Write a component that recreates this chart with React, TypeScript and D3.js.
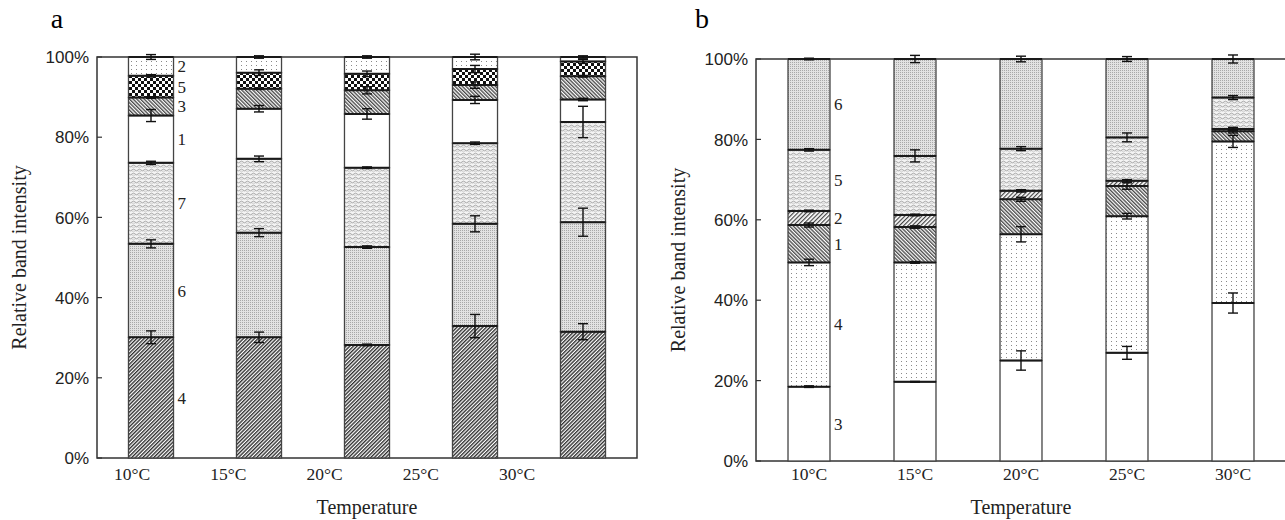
import React from 'react';
import * as d3 from 'd3';

// temperatures on the x axis
const temps = ['10°C', '15°C', '20°C', '25°C', '30°C'];
const yTicks = [0, 20, 40, 60, 80, 100];

// panel a: bands stacked bottom -> top, share (%) of each band per temperature
const bandsA = ['4', '6', '7', '1', '3', '5', '2'];
const a4 = [30.1, 30.1, 28.2, 32.9, 31.5];
const a6 = [23.3, 26.1, 24.4, 25.5, 27.3];
const a7 = [20.2, 18.4, 19.8, 20.1, 25.0];
const a1 = [11.8, 12.5, 13.4, 10.8, 5.6];
const a3 = [4.5, 5.0, 5.9, 3.7, 5.8];
const a5 = [5.4, 4.0, 4.1, 4.0, 3.7];
const a2 = [4.7, 3.9, 4.2, 3.0, 1.1];
// error (+/-) at top of each band
const a4Err = [1.6, 1.3, 0.2, 2.9, 2.0];
const a6Err = [1.0, 1.0, 0.3, 2.0, 3.5];
const a7Err = [0.4, 0.7, 0.2, 0.3, 3.9];
const a1Err = [1.5, 0.8, 1.3, 0.9, 0.3];
const a3Err = [0.2, 0.2, 0.9, 0.8, 0.2];
const a5Err = [0.3, 0.7, 0.7, 0.9, 0.5];
const a2Err = [0.6, 0.3, 0.3, 0.7, 0.3];

// panel b
const bandsB = ['3', '4', '1', '2', '5', '6'];
const b3 = [18.5, 19.7, 25.0, 26.9, 39.3];
const b4 = [30.9, 29.7, 31.4, 34.0, 40.2];
const b1 = [9.3, 8.8, 8.7, 7.5, 2.5];
const b2 = [3.5, 3.0, 2.1, 1.3, 0.6];
const b5 = [15.2, 14.7, 10.5, 10.8, 7.8];
const b6 = [22.6, 24.1, 22.3, 19.5, 9.6];
const b3Err = [0.2, 0.1, 2.4, 1.6, 2.5];
const b4Err = [0.8, 0.2, 1.9, 0.7, 1.5];
const b1Err = [0.5, 0.3, 0.5, 0.8, 0.4];
const b2Err = [0.2, 0.2, 0.3, 0.3, 0.4];
const b5Err = [0.3, 1.5, 0.5, 1.1, 0.5];
const b6Err = [0.2, 0.9, 0.7, 0.6, 1.0];

const serif = '"Liberation Serif", "Times New Roman", serif';
const sans = '"Liberation Sans", Arial, sans-serif';

function Patterns() {
  return (
    <defs>
      <pattern id="fwd" width="2.6" height="2.6" patternUnits="userSpaceOnUse" patternTransform="rotate(45)">
        <rect width="2.6" height="2.6" fill="#fff" />
        <line x1="0.7" y1="0" x2="0.7" y2="2.6" stroke="#2a2a2a" strokeWidth="1.35" />
      </pattern>
      <pattern id="fwdLight" width="3" height="3" patternUnits="userSpaceOnUse" patternTransform="rotate(45)">
        <rect width="3" height="3" fill="#fff" />
        <line x1="0.6" y1="0" x2="0.6" y2="3" stroke="#444" strokeWidth="1.2" />
      </pattern>
      <pattern id="back" width="2.6" height="2.6" patternUnits="userSpaceOnUse" patternTransform="rotate(-45)">
        <rect width="2.6" height="2.6" fill="#fff" />
        <line x1="0.7" y1="0" x2="0.7" y2="2.6" stroke="#3a3a3a" strokeWidth="1.25" />
      </pattern>
      <pattern id="grid" width="2" height="2" patternUnits="userSpaceOnUse">
        <rect width="2" height="2" fill="#e2e2e2" />
        <rect width="1" height="1" fill="#a8a8a8" />
      </pattern>
      <pattern id="wave" width="6" height="4" patternUnits="userSpaceOnUse">
        <rect width="6" height="4" fill="#f4f4f4" />
        <path d="M0 2 Q1.5 0.3 3 2 T6 2" fill="none" stroke="#9a9a9a" strokeWidth="0.9" />
        <path d="M0 4 Q1.5 2.3 3 4 T6 4" fill="none" stroke="#b5b5b5" strokeWidth="0.6" />
      </pattern>
      <pattern id="checker" width="6" height="6" patternUnits="userSpaceOnUse">
        <rect width="6" height="6" fill="#fff" />
        <rect width="3" height="3" fill="#111" />
        <rect x="3" y="3" width="3" height="3" fill="#111" />
      </pattern>
      <pattern id="dots" width="5" height="4" patternUnits="userSpaceOnUse">
        <rect width="5" height="4" fill="#fff" />
        <rect x="1" y="1" width="1" height="1" fill="#8a8a8a" />
      </pattern>
    </defs>
  );
}

function Panel({ letter, bands, values, errors, fills, frame, pad, labelRange }) {
  const { left, right, top, bottom } = frame;
  const x = d3.scaleBand().domain(temps).range([left, right]).paddingInner(pad).paddingOuter(pad / 2);
  const y = d3.scaleLinear().domain([0, 100]).range([bottom, top]);
  const labelX = labelRange
    ? d3.scalePoint().domain(temps).range(labelRange)
    : (t) => x(t) + x.bandwidth() / 2;

  const stacks = temps.map((t, i) => {
    let acc = 0;
    return bands.map((b, k) => {
      const y0 = acc;
      acc += values[k][i];
      return { band: b, t, y0, y1: acc, err: errors[k][i], fill: fills[k] };
    });
  });

  const bw = x.bandwidth();
  const cap = 5;

  return (
    <g>
      <text x={letter === 'a' ? 57 : 702} y={28} fontFamily={serif} fontSize={28} textAnchor="middle">{letter}</text>
      <rect x={left} y={top} width={right - left} height={bottom - top} fill="none" stroke="#333" strokeWidth={1.5} />
      {yTicks.map((v) => (
        <g key={v}>
          <line x1={left} x2={left + 5} y1={y(v)} y2={y(v)} stroke="#333" strokeWidth={1.2} />
          <text x={left - 8} y={y(v)} dy="0.36em" textAnchor="end" fontFamily={sans} fontSize={17} fill="#222">{v}%</text>
        </g>
      ))}
      {stacks.map((segs, i) => (
        <g key={i}>
          {segs.map((s) => (
            <rect key={s.band} x={x(s.t)} y={y(s.y1)} width={bw} height={y(s.y0) - y(s.y1)} fill={s.fill} stroke="#444" strokeWidth={1.3} />
          ))}
          {segs.map((s) => (
            <line key={'top' + s.band} x1={x(s.t)} x2={x(s.t) + bw} y1={y(s.y1)} y2={y(s.y1)} stroke="#1a1a1a" strokeWidth={2} />
          ))}
          {segs.map((s) => {
            const cx = x(s.t) + bw / 2;
            const hi = y(s.y1 + s.err);
            const lo = y(s.y1 - s.err);
            return (
              <g key={'err' + s.band} stroke="#111" strokeWidth={1.4}>
                <line x1={cx} x2={cx} y1={hi} y2={lo} />
                <line x1={cx - cap} x2={cx + cap} y1={hi} y2={hi} />
                <line x1={cx - cap} x2={cx + cap} y1={lo} y2={lo} />
              </g>
            );
          })}
        </g>
      ))}
      {stacks[0].map((s) => (
        <text key={'lab' + s.band} x={x(temps[0]) + bw + 4} y={y((s.y0 + s.y1) / 2)} dy="0.35em" fontFamily={serif} fontSize={17} fill="#222">{s.band}</text>
      ))}
      {temps.map((t) => (
        <text key={t} x={labelX(t)} y={480} textAnchor="middle" fontFamily={serif} fontSize={17.5} fill="#222">{t}</text>
      ))}
      <text x={(left + right) / 2} y={514} textAnchor="middle" fontFamily={serif} fontSize={20} fill="#222">Temperature</text>
      <text transform={`translate(${left - 78},${(top + bottom) / 2}) rotate(-90)`} textAnchor="middle" dy="0.35em" fontFamily={serif} fontSize={20} fill="#222">Relative band intensity</text>
    </g>
  );
}

export default function App() {
  return (
    <svg width={1285} height={520} style={{ position: 'absolute', left: 0, top: 0, background: '#fff' }}>
      <Patterns />
      <Panel
        letter="a"
        bands={bandsA}
        values={[a4, a6, a7, a1, a3, a5, a2]}
        errors={[a4Err, a6Err, a7Err, a1Err, a3Err, a5Err, a2Err]}
        fills={['url(#fwd)', 'url(#grid)', 'url(#wave)', '#fff', 'url(#back)', 'url(#checker)', 'url(#dots)']}
        frame={{ left: 97, right: 637, top: 57, bottom: 458 }}
        pad={0.583}
        labelRange={[132, 517]}
      />
      <Panel
        letter="b"
        bands={bandsB}
        values={[b3, b4, b1, b2, b5, b6]}
        errors={[b3Err, b4Err, b1Err, b2Err, b5Err, b6Err]}
        fills={['#fff', 'url(#dots)', 'url(#back)', 'url(#fwdLight)', 'url(#wave)', 'url(#grid)']}
        frame={{ left: 756, right: 1286, top: 59, bottom: 461 }}
        pad={0.604}
      />
    </svg>
  );
}
